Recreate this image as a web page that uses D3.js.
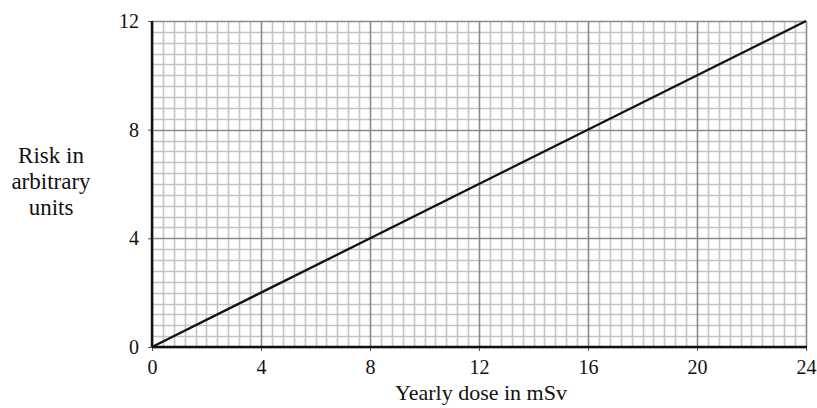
<!DOCTYPE html>
<html>
<head>
<meta charset="utf-8">
<script src="https://cdn.jsdelivr.net/npm/d3@7"></script>
<style>
  body { margin: 0; background: #fff; }
  text { font-family: "Liberation Serif", "Times New Roman", serif; fill: #111; }
</style>
</head>
<body>
<svg id="chart" width="817" height="408"></svg>
<script>
// data
const doseValues = [0, 24];
const riskValues = [0, 12];
const xTicks = [0, 4, 8, 12, 16, 20, 24];
const yTicks = [0, 4, 8, 12];
const minorStep = 0.4;

const margin = {top: 21, right: 11, bottom: 61, left: 152};
const width = 817, height = 408;

const svg = d3.select("#chart");

let xScale = d3.scaleLinear().domain([0, 24]).range([margin.left, width - margin.right]);
let yScale = d3.scaleLinear().domain([0, 12]).range([height - margin.bottom, margin.top]);

// minor grid
let minorX = d3.range(0, 24 + 1e-9, minorStep).filter(v => Math.abs(v / 4 - Math.round(v / 4)) > 1e-6);
let minorY = d3.range(0, 12 + 1e-9, minorStep).filter(v => Math.abs(v / 4 - Math.round(v / 4)) > 1e-6);

let grid = svg.append("g").attr("class", "grid");

grid.selectAll(".minor-x")
    .data(minorX)
    .enter()
    .append("line")
    .attr("x1", d => Math.round(xScale(d)) + 0.5)
    .attr("x2", d => Math.round(xScale(d)) + 0.5)
    .attr("y1", yScale(0))
    .attr("y2", yScale(12))
    .attr("stroke", "#c4c4c4")
    .attr("stroke-width", 1.6);

grid.selectAll(".minor-y")
    .data(minorY)
    .enter()
    .append("line")
    .attr("y1", d => Math.round(yScale(d)) + 0.5)
    .attr("y2", d => Math.round(yScale(d)) + 0.5)
    .attr("x1", xScale(0))
    .attr("x2", xScale(24))
    .attr("stroke", "#c4c4c4")
    .attr("stroke-width", 1.6);

// major grid
grid.selectAll(".major-x")
    .data(xTicks)
    .enter()
    .append("line")
    .attr("x1", d => Math.round(xScale(d)) + 0.5)
    .attr("x2", d => Math.round(xScale(d)) + 0.5)
    .attr("y1", yScale(0))
    .attr("y2", yScale(12))
    .attr("stroke", "#8a8a8a")
    .attr("stroke-width", 1.6);

grid.selectAll(".major-y")
    .data(yTicks)
    .enter()
    .append("line")
    .attr("y1", d => Math.round(yScale(d)) + 0.5)
    .attr("y2", d => Math.round(yScale(d)) + 0.5)
    .attr("x1", xScale(0))
    .attr("x2", xScale(24))
    .attr("stroke", "#8a8a8a")
    .attr("stroke-width", 1.6);

// axes
let xAxis = d3.axisBottom(xScale).tickValues(xTicks).tickSize(4).tickPadding(9);
let yAxis = d3.axisLeft(yScale).tickValues(yTicks).tickSize(4).tickPadding(9);

let gx = svg.append("g")
    .attr("transform", `translate(0, ${yScale(0)})`)
    .call(xAxis);
gx.attr("font-size", 20).attr("font-family", "Liberation Serif");
gx.select(".domain").remove();
gx.selectAll("line").attr("stroke", "#555");
gx.selectAll("text").attr("fill", "#111");

let gy = svg.append("g")
    .attr("transform", `translate(${xScale(0)}, 0)`)
    .call(yAxis);
gy.attr("font-size", 20).attr("font-family", "Liberation Serif");
gy.select(".domain").remove();
gy.selectAll("line").attr("stroke", "#555");
gy.selectAll("text").attr("fill", "#111");

// heavy axis lines
svg.append("line")
    .attr("x1", xScale(0)).attr("x2", xScale(24) + 1)
    .attr("y1", yScale(0)).attr("y2", yScale(0))
    .attr("stroke", "#111").attr("stroke-width", 2.5);
svg.append("line")
    .attr("x1", xScale(0)).attr("x2", xScale(0))
    .attr("y1", yScale(0)).attr("y2", yScale(12))
    .attr("stroke", "#111").attr("stroke-width", 2.5);

// the line
let line = d3.line()
    .x(d => xScale(d[0]))
    .y(d => yScale(d[1]));

svg.append("path")
    .datum(d3.zip(doseValues, riskValues))
    .attr("d", line)
    .attr("fill", "none")
    .attr("stroke", "#111")
    .attr("stroke-width", 2.3);

// axis labels
svg.append("text")
    .attr("x", 481)
    .attr("y", 400)
    .attr("text-anchor", "middle")
    .attr("font-size", 22)
    .text("Yearly dose in mSv");

let yLabel = svg.append("text")
    .attr("text-anchor", "middle")
    .attr("font-size", 23);
["Risk in", "arbitrary", "units"].forEach((t, i) => {
    yLabel.append("tspan")
        .attr("x", 51)
        .attr("y", 163 + i * 26)
        .text(t);
});
</script>
</body>
</html>
